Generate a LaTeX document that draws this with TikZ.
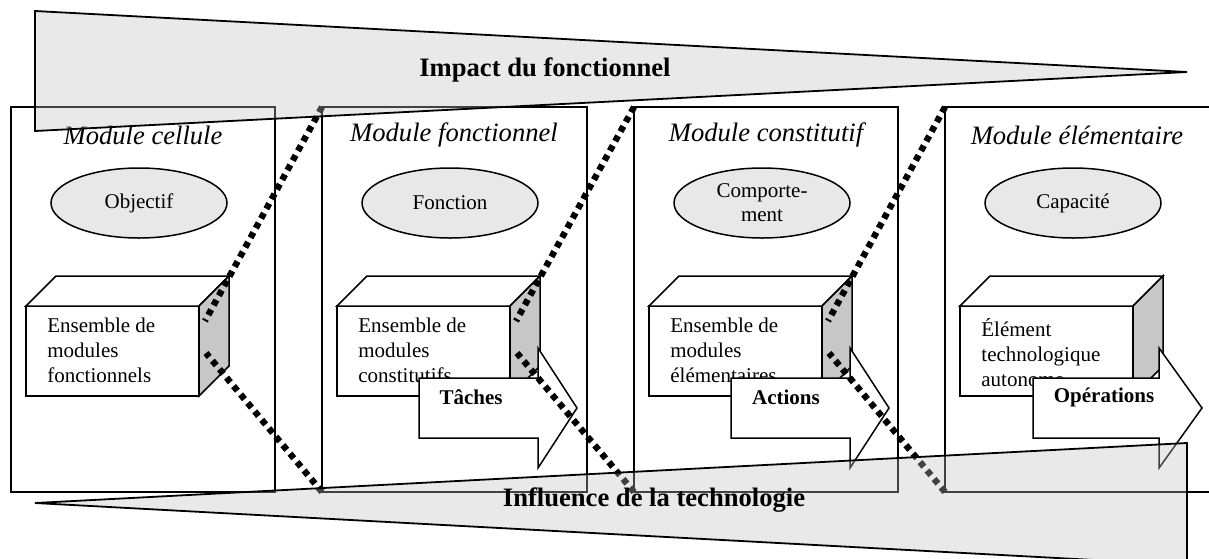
\documentclass[tikz,border=0pt]{standalone}
\usepackage{fontspec}
\setmainfont{Liberation Serif}
\usetikzlibrary{shapes.geometric,positioning}

\begin{document}
\begin{tikzpicture}[x=0.5pt, y=-0.5pt,
  frame/.style={draw, line width=0.75pt, minimum height=192.5pt, inner sep=0pt, outer sep=0pt},
  title/.style={font=\fontsize{13.3}{16}\selectfont\itshape},
  goal/.style={ellipse, draw, line width=0.75pt, fill=black!9, minimum width=88pt,
    minimum height=35pt, inner sep=0pt, align=center, font=\fontsize{10.5}{12}\selectfont},
  front/.style={draw, line width=0.75pt, fill=white, minimum width=86.5pt, minimum height=45pt,
    inner sep=0pt, outer sep=0pt},
  face/.style={draw, line width=0.75pt},
  settext/.style={align=left, inner sep=0pt, font=\fontsize{10.5}{12.5}\selectfont},
  flow/.style={draw, line width=0.75pt, fill=white},
  flowtext/.style={font=\fontsize{10.5}{12}\selectfont\bfseries},
  persp/.style={line width=3.2pt, dash pattern=on 3pt off 2.5pt},
  band/.style={draw, line width=0.9pt, fill=black!25, fill opacity=0.35},
  bandtext/.style={font=\fontsize{13.3}{16}\selectfont\bfseries}]

\path[use as bounding box] (0,0) rectangle (1209,558);
\clip (0,0) rectangle (1209,558);

% ---- modules ---------------------------------------------------------------
\foreach \i/\l/\w/\ttl/\obj/\ens in {
  1/11/264/{Module cellule}/Objectif/{Ensemble de\\modules\\fonctionnels},
  2/322/265/{Module fonctionnel}/Fonction/{Ensemble de\\modules\\constitutifs},
  3/634/264/{Module constitutif}/{Comporte-\\ment}/{Ensemble de\\modules\\élémentaires},
  4/945/270/{Module élémentaire}/Capacité/{Élément\\technologique\\autonome}}{
  \node[frame, minimum width={\w*0.5pt}, anchor=north west] (m\i) at (\l,107) {};
  \node[title] (t\i) at ({\l+132},135) {\ttl};
  \node[goal] (g\i) at ({\l+128},203) {\obj};
  % cube
  \node[front, anchor=north west] (c\i) at ({\l+15},306) {};
  \draw[face, fill=white] (c\i.north west) -- ++(30,-30) -- ++(173,0) -- (c\i.north east) -- cycle;
  \draw[face, fill=black!22] (c\i.north east) -- ++(30,-30) -- ++(0,90) -- (c\i.south east) -- cycle;
  \node[settext, anchor=north west] (e\i) at ({\l+36},318) {\ens};
  \coordinate (s\i-a) at ({\l+194},321);
  \coordinate (s\i-b) at ({\l+195},353);
}

% ---- block arrows ----------------------------------------------------------
\foreach \i/\a/\b/\c/\m/\txt in {2/419/538/577/471/Tâches, 3/731/850/889/786/Actions,
                                 4/1033/1159/1202/1104/Opérations}{
  \draw[flow] (\a,378) -- (\b,378) -- (\b,348) -- (\c,408) -- (\b,468) -- (\b,438)
    -- (\a,438) -- cycle;
  \node[flowtext] (f\i) at (\m,397) {\txt};
}

% ---- perspective lines -----------------------------------------------------
\foreach \i/\j in {1/2, 2/3, 3/4}{
  \draw[persp] (m\j.north west) -- (s\i-a);
  \draw[persp] (m\j.south west) -- (s\i-b);
}

% ---- bands -----------------------------------------------------------------
\draw[band] (35,11) -- (1187,72) -- (35,131) -- cycle;
\draw[band] (35,503) -- (1187,443) -- (1187,565) -- cycle;
\node[bandtext] (impact) at (545,70) {Impact du fonctionnel};
\node[bandtext] (influence) at (654,500) {Influence de la technologie};

\end{tikzpicture}
\end{document}
